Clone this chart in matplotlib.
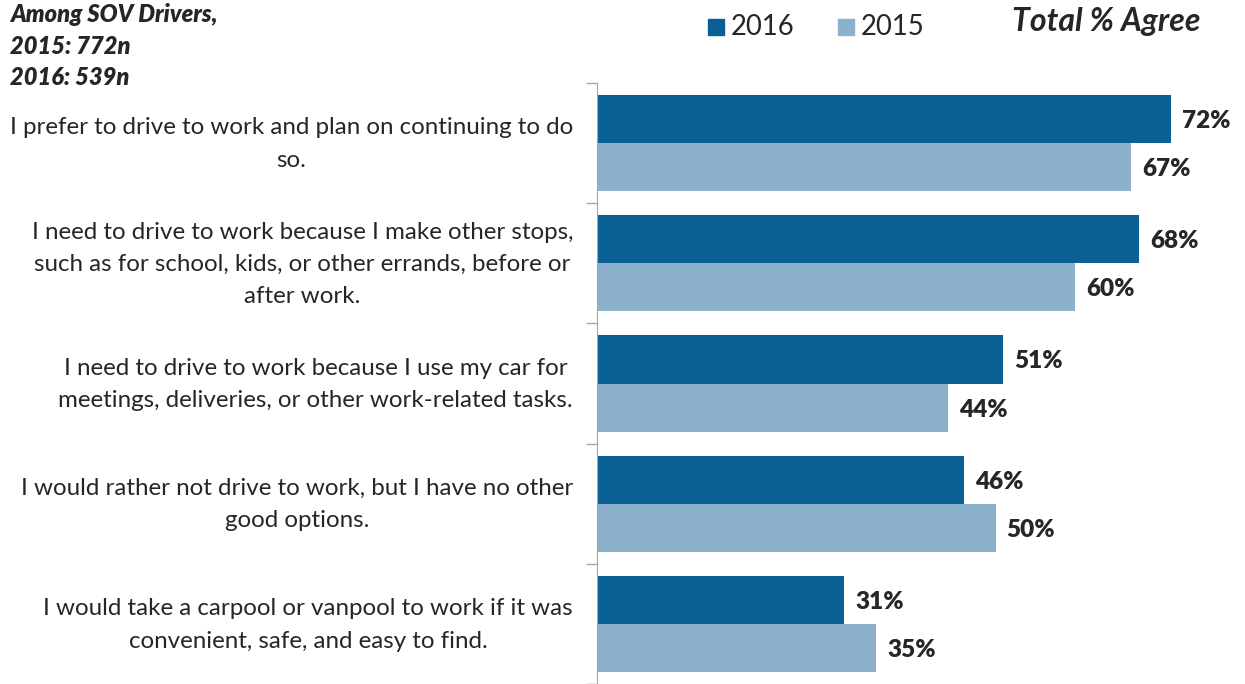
import numpy as np
import matplotlib
matplotlib.use("Agg")
import matplotlib.pyplot as plt

plt.rcParams['font.family'] = ['Lato', 'DejaVu Sans']

# Survey statements and share agreeing
statements = [
    "I prefer to drive to work and plan on continuing to do\nso.",
    "I need to drive to work because I make other stops,\nsuch as for school, kids, or other errands, before or\nafter work.",
    "I need to drive to work because I use my car for\nmeetings, deliveries, or other work-related tasks.",
    "I would rather not drive to work, but I have no other\ngood options.",
    "I would take a carpool or vanpool to work if it was\nconvenient, safe, and easy to find.",
]
agree_2016 = [72, 68, 51, 46, 31]
agree_2015 = [67, 60, 44, 50, 35]

c2016 = "#0a6095"
c2015 = "#8cb1cc"
txt = "#262626"

W, H = 1245, 684
fig = plt.figure(figsize=(W / 100, H / 100), dpi=100)
ax = fig.add_axes([597 / W, 0, 648 / W, 601 / H])

y = np.arange(len(statements))
h = 0.4
b16 = ax.barh(y - h / 2, agree_2016, height=h, color=c2016)
b15 = ax.barh(y + h / 2, agree_2015, height=h, color=c2015)

for bars, vals in ((b16, agree_2016), (b15, agree_2015)):
    for bar, v in zip(bars, vals):
        ax.annotate(f"{v}%", (v, bar.get_y() + bar.get_height() / 2),
                    xytext=(11, -2), textcoords="offset pixels",
                    va="center", ha="left", fontsize=17.5, fontweight="heavy", color=txt)

ax.set_xlim(0, 81.3)
ax.set_ylim(len(statements) - 0.5, -0.5)

# category labels sit between boundary ticks
ax.set_yticks(np.arange(len(statements) + 1) - 0.5)
ax.set_yticklabels([])
ax.tick_params(axis="y", length=8, color="#a6a6a6", width=1)
ax.set_xticks([])
for s in ("top", "right", "bottom"):
    ax.spines[s].set_visible(False)
ax.spines["left"].set_color("#a6a6a6")

for i, s in enumerate(statements):
    ax.annotate(s, (0, i), xytext=(-24, -1), textcoords="offset pixels",
                ha="right", va="center", multialignment="center",
                fontsize=17.4, color=txt, linespacing=1.66)

fig.text(10 / W, 1 - 3 / H, "Among SOV Drivers,\n2015: 772n\n2016: 539n",
         ha="left", va="top", fontsize=17, fontweight="heavy", style="italic",
         color=txt, linespacing=1.45)
fig.text(1200 / W, 1 - 22 / H, "Total % Agree", ha="right", va="center",
         fontsize=23, fontweight="bold", style="italic", color=txt)

# legend
fig.patches.append(plt.Rectangle((708 / W, 1 - 35 / H), 16 / W, 16 / H,
                                 color=c2016, transform=fig.transFigure))
fig.text(731 / W, 1 - 27 / H, "2016", va="center", fontsize=19.8, color=txt)
fig.patches.append(plt.Rectangle((838 / W, 1 - 35 / H), 16 / W, 16 / H,
                                 color=c2015, transform=fig.transFigure))
fig.text(861 / W, 1 - 27 / H, "2015", va="center", fontsize=19.8, color=txt)

fig.savefig("out.png", dpi=100)
